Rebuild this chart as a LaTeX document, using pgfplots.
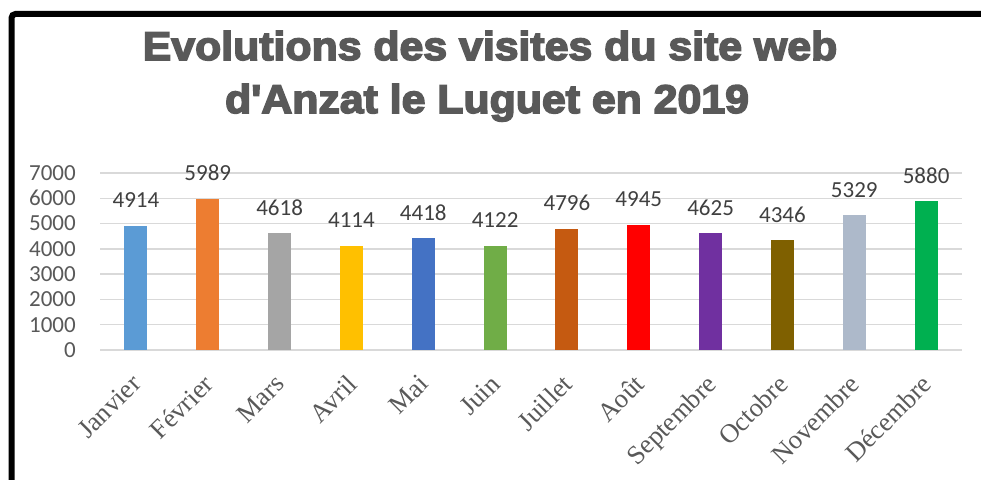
\documentclass[border=0pt]{standalone}
\usepackage{pgfplots}
\pgfplotsset{compat=1.18}
\usepackage{fontspec}
\setmainfont{Carlito}
\newfontfamily\serifx{Liberation Serif}
\newfontfamily\titlefont{Liberation Sans}[BoldFeatures={FakeBold=4,FakeStretch=1.07}]
\definecolor{txtgray}{HTML}{595959}
\definecolor{lblgray}{HTML}{404040}
\definecolor{gridgray}{HTML}{D9D9D9}
\definecolor{c1}{HTML}{5B9BD5}
\definecolor{c2}{HTML}{ED7D31}
\definecolor{c3}{HTML}{A5A5A5}
\definecolor{c4}{HTML}{FFC000}
\definecolor{c5}{HTML}{4472C4}
\definecolor{c6}{HTML}{70AD47}
\definecolor{c7}{HTML}{C55A11}
\definecolor{c8}{HTML}{FF0000}
\definecolor{c9}{HTML}{7030A0}
\definecolor{c10}{HTML}{7F6000}
\definecolor{c11}{HTML}{ADB9CA}
\definecolor{c12}{HTML}{00B050}
\begin{document}
\begin{tikzpicture}[x=1pt,y=1pt]
\useasboundingbox (0,0) rectangle (981,479);
\clip (0,0) rectangle (981,479);
\fill[white] (0,0) rectangle (981,479);
\draw[line width=6pt, rounded corners=4pt] (11.5,-20) -- (11.5,465) -- (1000,465);
\node[anchor=base, text=txtgray, font=\titlefont\bfseries\fontsize{40}{48}\selectfont, inner sep=0pt] at (490,419) {Evolutions des visites du site web};
\node[anchor=base, text=txtgray, font=\titlefont\bfseries\fontsize{40}{48}\selectfont, inner sep=0pt] at (487,366) {d'Anzat le Luguet en 2019};
\begin{axis}[
  at={(100pt,129pt)}, anchor=south west,
  scale only axis, width=862pt, height=177pt,
  xmin=-0.5, xmax=11.5, ymin=0, ymax=7000,
  ytick={0,1000,...,7000},
  xtick={0,...,11},
  xticklabels={Janvier,Février,Mars,Avril,Mai,Juin,Juillet,Août,Septembre,Octobre,Novembre,Décembre},
  major tick length=0pt,
  axis line style={draw=none},
  ymajorgrids, grid style={draw=gridgray, line width=1.5pt},
  /pgf/number format/1000 sep={},
  /pgf/number format/assume math mode=true,
  yticklabel style={font=\fontsize{23}{26}\selectfont, text=txtgray, anchor=east, inner sep=0pt, xshift=-24pt},
  xticklabel style={font=\serifx\fontsize{26.5}{30}\selectfont, text=txtgray, rotate=45, anchor=north east, inner sep=0pt, yshift=-12pt, xshift=-20.5pt},
  nodes near coords,
  nodes near coords style={font=\fontsize{23}{26}\selectfont, text=lblgray, anchor=base, inner sep=0pt, yshift=18pt},
  clip=false,
  bb/.style={ybar, bar width=23pt, bar shift=0pt, draw=none},
]
\addplot[bb, fill=c1] coordinates {(0,4914)};
\addplot[bb, fill=c2] coordinates {(1,5989)};
\addplot[bb, fill=c3] coordinates {(2,4618)};
\addplot[bb, fill=c4] coordinates {(3,4114)};
\addplot[bb, fill=c5] coordinates {(4,4418)};
\addplot[bb, fill=c6] coordinates {(5,4122)};
\addplot[bb, fill=c7] coordinates {(6,4796)};
\addplot[bb, fill=c8] coordinates {(7,4945)};
\addplot[bb, fill=c9] coordinates {(8,4625)};
\addplot[bb, fill=c10] coordinates {(9,4346)};
\addplot[bb, fill=c11] coordinates {(10,5329)};
\addplot[bb, fill=c12] coordinates {(11,5880)};
\end{axis}
\end{tikzpicture}
\end{document}
